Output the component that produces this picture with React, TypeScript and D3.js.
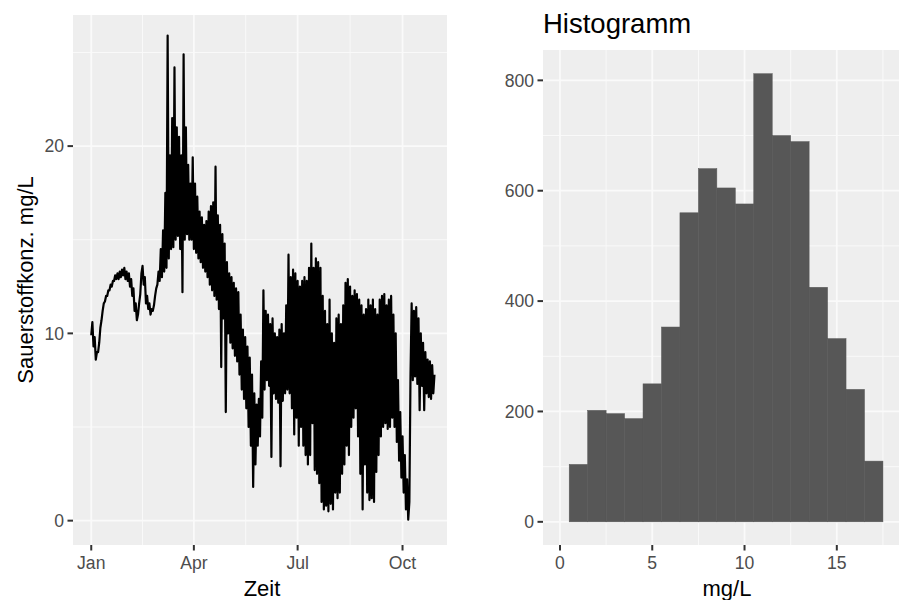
import React from "react";
import * as d3 from "d3";

const WIDTH = 899;
const HEIGHT = 600;
const FONT = "'Liberation Sans', Arial, Helvetica, sans-serif";

// Dissolved oxygen series: day offset from 1 January, lower and upper reading of each sample window (mg/L)
const o2Days = [
  0, 2, 4, 6, 8, 10, 12, 14, 16, 18, 20, 22, 24, 26, 28, 30, 32, 34, 36, 38,
  40, 42, 44, 46, 48, 50, 52, 54, 56, 58, 60, 62, 64, 66, 68, 70, 72, 74, 76, 78,
  80, 82, 84, 86, 88, 90, 92, 94, 96, 98, 100, 102, 104, 106, 108, 110, 112, 114, 116, 118,
  120, 122, 124, 126, 128, 130, 132, 134, 136, 138, 140, 142, 144, 146, 148, 150, 152, 154, 156, 158,
  160, 162, 164, 166, 168, 170, 172, 174, 176, 178, 180, 182, 184, 186, 188, 190, 192, 194, 196, 198,
  200, 202, 204, 206, 208, 210, 212, 214, 216, 218, 220, 222, 224, 226, 228, 230, 232, 234, 236, 238,
  240, 242, 244, 246, 248, 250, 252, 254, 256, 258, 260, 262, 264, 266, 268, 270, 272, 274, 276, 278,
  280, 282, 284, 286, 288, 290, 292, 294, 296, 298, 300,
];
const o2Low = [
  9.9, 9.3, 8.6, 9.0, 10.3, 11.2, 11.7, 12.0, 12.3, 12.5, 12.8, 12.9, 12.9, 13.0, 13.1, 12.9, 12.8, 12.5, 12.0, 11.2,
  10.7, 11.6, 13.2, 12.6, 11.6, 11.3, 11.0, 11.2, 12.0, 12.6, 12.8, 13.0, 13.3, 13.5, 14.0, 14.5, 14.6, 15.0, 15.2, 14.5,
  12.2, 15.0, 15.3, 15.0, 15.0, 14.5, 14.3, 14.0, 13.8, 13.5, 13.3, 13.0, 12.6, 12.3, 12.0, 11.8, 11.3, 8.2, 10.8, 5.8,
  10.0, 9.5, 9.2, 8.8, 8.5, 7.8, 7.0, 6.5, 6.0, 5.0, 4.0, 1.8, 3.0, 4.0, 4.5, 5.5, 7.0, 7.5, 7.2, 3.4,
  6.8, 6.5, 6.3, 2.9, 6.4, 6.8, 7.0, 6.8, 6.0, 4.6, 5.5, 4.0, 5.0, 4.0, 3.5, 3.0, 3.5, 5.2, 2.7, 2.5,
  2.0, 1.0, 0.6, 0.8, 0.5, 0.9, 0.6, 1.5, 1.2, 1.5, 2.5, 3.0, 4.0, 3.5, 5.0, 5.5, 6.0, 4.5, 2.5, 0.6,
  3.0, 1.5, 1.1, 1.2, 1.0, 2.6, 3.5, 4.5, 5.0, 5.2, 4.9, 5.0, 5.5, 5.0, 4.2, 3.2, 2.3, 1.5, 0.6, 0.05,
  7.8, 7.5, 7.7, 7.3, 5.9, 7.2, 5.9, 6.8, 6.6, 6.5, 6.8,
];
const o2High = [
  10.6, 9.8, 9.0, 9.5, 10.7, 11.6, 12.0, 12.3, 12.6, 12.8, 13.1, 13.2, 13.3, 13.4, 13.5, 13.3, 13.2, 12.9, 12.4, 11.6,
  11.0, 12.1, 13.6, 13.0, 12.0, 11.6, 11.3, 11.5, 12.4, 13.3, 14.5, 15.5, 17.5, 25.9, 19.5, 21.5, 24.2, 21.0, 20.5, 19.5,
  24.9, 21.0, 19.0, 18.0, 19.4, 18.0, 17.3, 16.5, 16.2, 15.8, 16.0, 16.5, 16.8, 17.0, 18.9, 16.3, 15.8, 15.3, 14.8, 13.8,
  13.2, 13.0, 12.7, 12.4, 12.2, 11.0, 10.2, 9.8, 9.3, 8.7, 7.8, 6.8, 6.2, 6.5, 8.5, 12.3, 11.2, 11.0, 10.5, 10.8,
  10.0, 9.8, 10.2, 10.5, 10.0, 11.5, 14.2, 13.0, 13.4, 13.2, 12.8, 12.5, 12.8, 13.0, 12.8, 13.5, 14.8, 13.5, 14.0, 13.8,
  13.5, 12.0, 11.2, 10.5, 11.8, 10.0, 9.5, 10.8, 11.0, 10.5, 11.5, 12.7, 12.9, 12.5, 12.0, 12.3, 12.1, 11.8, 11.5, 11.0,
  11.3, 11.8, 11.5, 11.8, 11.3, 11.0, 11.8, 12.0, 12.1, 11.5, 11.8, 12.0, 11.0, 10.0, 7.5, 5.8, 4.5, 3.5, 2.2, 1.0,
  11.6, 11.2, 11.4, 10.8, 10.0, 9.5, 9.0, 8.6, 8.5, 8.3, 7.8,
];

// Histogram of the same readings: bin centres (mg/L) and counts per bin
const binCenters = [1, 2, 3, 4, 5, 6, 7, 8, 9, 10, 11, 12, 13, 14, 15, 16, 17];
const binCounts = [104, 202, 196, 187, 250, 353, 560, 640, 605, 576, 812, 700, 689, 425, 332, 240, 110];
const binWidth = 1;

const leftYTicks = [0, 10, 20];
const leftYMinor = [5, 15, 25];
const rightXTicks = [0, 5, 10, 15];
const rightXMinor = [2.5, 7.5, 12.5, 17.5];
const rightYTicks = [0, 200, 400, 600, 800];
const rightYMinor = [100, 300, 500, 700];

const yAxisTitle = "Sauerstoffkonz. mg/L";
const xAxisTitleLeft = "Zeit";
const xAxisTitleRight = "mg/L";
const rightTitle = "Histogramm";

const PANEL_BG = "#EEEEEE";
const GRID = "#FAFAFA";
const TICK_COLOR = "#333333";
const TEXT_COLOR = "#4D4D4D";
const BAR_FILL = "#575757";
const TICK_LEN = 5.5;
const TICK_FONT = 17.6;
const TITLE_FONT = 22;
const MAJOR_W = 1.8;
const MINOR_W = 0.9;

const yearStart = new Date(2017, 0, 1);
const dateOf = (d: number) =>
  new Date(d3.timeDay.offset(yearStart, Math.floor(d)).getTime() + (d - Math.floor(d)) * 86400000);

// Left panel: time series
const L = { x0: 73, x1: 447, y0: 15, y1: 545 };
const xTime = d3.scaleTime().domain([dateOf(-16), dateOf(312)]).range([L.x0, L.x1]);
const yO2 = d3.scaleLinear().domain([-1.3, 27.0]).range([L.y1, L.y0]);

const timeTicks = xTime.ticks(d3.timeMonth.every(3) as d3.TimeInterval);
const timeMinor = timeTicks.map((t, i) => {
  const next = i < timeTicks.length - 1 ? timeTicks[i + 1] : d3.timeMonth.offset(t, 3);
  return new Date((t.getTime() + next.getTime()) / 2);
});
const fmtMonth = d3.timeFormat("%b");

// Right panel: histogram
const R = { x0: 543, x1: 911, y0: 50, y1: 545 };
const xMg = d3.scaleLinear().domain([-0.92, 19.02]).range([R.x0, R.x1]);
const yCount = d3.scaleLinear().domain([-42, 855]).range([R.y1, R.y0]);

// Each sample window contributes its low reading followed by its high reading
const seriesPoints: [number, number][] = [];
o2Days.forEach((d, i) => {
  seriesPoints.push([d, o2Low[i]]);
  seriesPoints.push([d + 1, o2High[i]]);
});

const linePath =
  d3
    .line<[number, number]>()
    .x((p) => xTime(dateOf(p[0])))
    .y((p) => yO2(p[1]))(seriesPoints) || "";

export default function App() {
  return (
    <div style={{ position: "fixed", left: 0, top: 0, width: WIDTH, height: HEIGHT, background: "#fff" }}>
      <svg width={WIDTH} height={HEIGHT} style={{ display: "block", fontFamily: FONT }}>
        <rect width={WIDTH} height={HEIGHT} fill="#fff" />

        {/* ---------- time series panel ---------- */}
        <rect x={L.x0} y={L.y0} width={L.x1 - L.x0} height={L.y1 - L.y0} fill={PANEL_BG} />
        {leftYMinor.map((v) => (
          <line key={"lym" + v} x1={L.x0} x2={L.x1} y1={yO2(v)} y2={yO2(v)} stroke={GRID} strokeWidth={MINOR_W} />
        ))}
        {timeMinor
          .filter((t) => xTime(t) > L.x0 && xTime(t) < L.x1)
          .map((t, i) => (
            <line key={"lxm" + i} x1={xTime(t)} x2={xTime(t)} y1={L.y0} y2={L.y1} stroke={GRID} strokeWidth={MINOR_W} />
          ))}
        {leftYTicks.map((v) => (
          <line key={"lyg" + v} x1={L.x0} x2={L.x1} y1={yO2(v)} y2={yO2(v)} stroke={GRID} strokeWidth={MAJOR_W} />
        ))}
        {timeTicks.map((t, i) => (
          <line key={"lxg" + i} x1={xTime(t)} x2={xTime(t)} y1={L.y0} y2={L.y1} stroke={GRID} strokeWidth={MAJOR_W} />
        ))}
        <path d={linePath} fill="none" stroke="#000" strokeWidth={2.2} strokeLinejoin="round" />

        {leftYTicks.map((v) => (
          <g key={"lyt" + v}>
            <line x1={L.x0 - TICK_LEN} x2={L.x0} y1={yO2(v)} y2={yO2(v)} stroke={TICK_COLOR} strokeWidth={2} />
            <text x={L.x0 - TICK_LEN - 3.5} y={yO2(v)} dy="0.35em" textAnchor="end" fontSize={TICK_FONT} fill={TEXT_COLOR}>
              {v}
            </text>
          </g>
        ))}
        {timeTicks.map((t, i) => (
          <g key={"lxt" + i}>
            <line x1={xTime(t)} x2={xTime(t)} y1={L.y1} y2={L.y1 + TICK_LEN} stroke={TICK_COLOR} strokeWidth={2} />
            <text x={xTime(t)} y={569} textAnchor="middle" fontSize={TICK_FONT} fill={TEXT_COLOR}>
              {fmtMonth(t)}
            </text>
          </g>
        ))}
        <text x={(L.x0 + L.x1) / 2 + 2} y={596} textAnchor="middle" fontSize={TITLE_FONT} fill="#000">
          {xAxisTitleLeft}
        </text>
        <text
          transform={`translate(33, ${(L.y0 + L.y1) / 2}) rotate(-90)`}
          textAnchor="middle"
          fontSize={TITLE_FONT}
          fill="#000"
        >
          {yAxisTitle}
        </text>

        {/* ---------- histogram panel ---------- */}
        <rect x={R.x0} y={R.y0} width={R.x1 - R.x0} height={R.y1 - R.y0} fill={PANEL_BG} />
        {rightYMinor.map((v) => (
          <line key={"rym" + v} x1={R.x0} x2={R.x1} y1={yCount(v)} y2={yCount(v)} stroke={GRID} strokeWidth={MINOR_W} />
        ))}
        {rightXMinor.map((v) => (
          <line key={"rxm" + v} x1={xMg(v)} x2={xMg(v)} y1={R.y0} y2={R.y1} stroke={GRID} strokeWidth={MINOR_W} />
        ))}
        {rightYTicks.map((v) => (
          <line key={"ryg" + v} x1={R.x0} x2={R.x1} y1={yCount(v)} y2={yCount(v)} stroke={GRID} strokeWidth={MAJOR_W} />
        ))}
        {rightXTicks.map((v) => (
          <line key={"rxg" + v} x1={xMg(v)} x2={xMg(v)} y1={R.y0} y2={R.y1} stroke={GRID} strokeWidth={MAJOR_W} />
        ))}
        {binCenters.map((c, i) => (
          <rect
            key={"bar" + c}
            x={xMg(c - binWidth / 2)}
            y={yCount(binCounts[i])}
            width={xMg(c + binWidth / 2) - xMg(c - binWidth / 2)}
            height={yCount(0) - yCount(binCounts[i])}
            fill={BAR_FILL}
            stroke={BAR_FILL}
            strokeWidth={0.5}
          />
        ))}
        {rightYTicks.map((v) => (
          <g key={"ryt" + v}>
            <line x1={R.x0 - TICK_LEN} x2={R.x0} y1={yCount(v)} y2={yCount(v)} stroke={TICK_COLOR} strokeWidth={2} />
            <text x={R.x0 - TICK_LEN - 3.5} y={yCount(v)} dy="0.35em" textAnchor="end" fontSize={TICK_FONT} fill={TEXT_COLOR}>
              {v}
            </text>
          </g>
        ))}
        {rightXTicks.map((v) => (
          <g key={"rxt" + v}>
            <line x1={xMg(v)} x2={xMg(v)} y1={R.y1} y2={R.y1 + TICK_LEN} stroke={TICK_COLOR} strokeWidth={2} />
            <text x={xMg(v)} y={569} textAnchor="middle" fontSize={TICK_FONT} fill={TEXT_COLOR}>
              {v}
            </text>
          </g>
        ))}
        <text x={(R.x0 + R.x1) / 2} y={596} textAnchor="middle" fontSize={TITLE_FONT} fill="#000">
          {xAxisTitleRight}
        </text>
        <text x={R.x0} y={33} fontSize={27.5} fill="#000">
          {rightTitle}
        </text>
      </svg>
    </div>
  );
}
